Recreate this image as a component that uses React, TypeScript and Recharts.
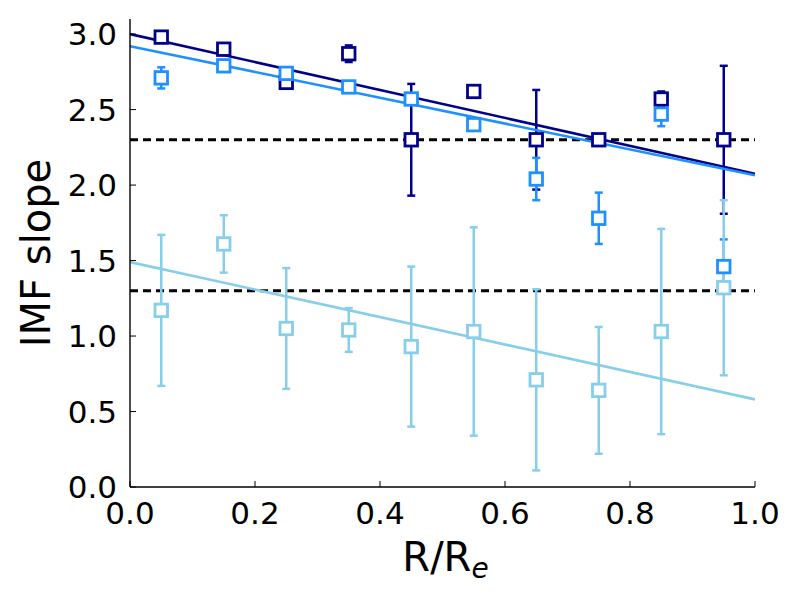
import React from 'react';
import {
  ComposedChart,
  Scatter,
  Line,
  ErrorBar,
  XAxis,
  YAxis,
  ReferenceLine,
} from 'recharts';

// radial bins (R/Re)
const radius = [0.05, 0.15, 0.25, 0.35, 0.45, 0.55, 0.65, 0.75, 0.85, 0.95];

// IMF slope per bin and its error
const darkSlope = [2.98, 2.9, 2.68, 2.87, 2.3, 2.62, 2.3, 2.3, 2.57, 2.3];
const darkErr = [0.02, 0.02, 0.02, 0.055, 0.37, 0.02, 0.33, 0.02, 0.05, 0.49];

const midSlope = [2.71, 2.79, 2.74, 2.65, 2.57, 2.4, 2.04, 1.78, 2.47, 1.46];
const midErr = [0.07, 0.02, 0.02, 0.02, 0.02, 0.02, 0.14, 0.17, 0.08, 0.18];

const lightSlope = [1.17, 1.61, 1.05, 1.04, 0.93, 1.03, 0.71, 0.64, 1.03, 1.32];
const lightErr = [0.5, 0.19, 0.4, 0.145, 0.53, 0.69, 0.6, 0.42, 0.68, 0.58];

// linear fits: value at R=0 and R=1
const darkFit = [3.0, 2.075];
const midFit = [2.92, 2.065];
const lightFit = [1.49, 0.58];

// reference IMF slopes
const refSlopes = [2.3, 1.3];

const xTicks = [0, 0.2, 0.4, 0.6, 0.8, 1.0];
const yTicks = [0, 0.5, 1.0, 1.5, 2.0, 2.5, 3.0];

const DARK = '#00008B';
const MID = '#1E90FF';
const LIGHT = '#87CEEB';
const FONT = 'DejaVu Sans';

const points = (vals: number[], errs: number[]) =>
  radius.map((r, i) => ({ x: r, y: vals[i], err: errs[i] }));

const fitLine = (ends: number[]) => [
  { x: 0, y: ends[0] },
  { x: 1, y: ends[1] },
];

const square = (color: string) => (props: any) => (
  <rect
    x={props.cx - 6.25}
    y={props.cy - 6.25}
    width={12.5}
    height={12.5}
    fill="#ffffff"
    stroke={color}
    strokeWidth={2.8}
  />
);

const series = [
  { name: 'dark', color: DARK, data: points(darkSlope, darkErr), fit: fitLine(darkFit) },
  { name: 'mid', color: MID, data: points(midSlope, midErr), fit: fitLine(midFit) },
  { name: 'light', color: LIGHT, data: points(lightSlope, lightErr), fit: fitLine(lightFit) },
];

const tickStyle = { fontSize: 31, fill: '#000', fontFamily: FONT };
const axisLine = { stroke: '#000', strokeWidth: 1.4 };

const App = () => {
  return (
    <div style={{ width: 792, height: 592 }}>
      <ComposedChart
        width={792}
        height={592}
        margin={{ top: 11, right: 45, left: 0, bottom: 0 }}
        style={{ fontFamily: FONT }}
      >
        <XAxis
          dataKey="x"
          type="number"
          domain={[0, 1]}
          ticks={xTicks}
          tickFormatter={(v) => v.toFixed(1)}
          tick={tickStyle}
          tickSize={-6}
          tickMargin={21}
          tickLine={{ stroke: '#000' }}
          axisLine={axisLine}
          height={113}
          allowDataOverflow
          label={{
            content: (p: any) => {
              const vb = p.viewBox;
              return (
                <text
                  x={vb.x + vb.width / 2 + 3}
                  y={563}
                  textAnchor="middle"
                  fontFamily={FONT}
                  fontSize={40}
                  fill="#000"
                >
                  R/R
                  <tspan fontSize={28} fontStyle="italic" dy={7}>
                    e
                  </tspan>
                </text>
              );
            },
          }}
        />
        <XAxis
          xAxisId="top"
          orientation="top"
          type="number"
          domain={[0, 1]}
          ticks={xTicks}
          tickFormatter={() => ''}
          tickSize={-6}
          tickLine={{ stroke: '#000' }}
          axisLine={axisLine}
          height={0}
          allowDataOverflow
        />
        <YAxis
          type="number"
          domain={[0, 3.1]}
          ticks={yTicks}
          tickFormatter={(v) => v.toFixed(1)}
          tick={tickStyle}
          tickSize={-6}
          tickMargin={19}
          tickLine={{ stroke: '#000' }}
          axisLine={axisLine}
          width={122}
          allowDataOverflow
          label={{
            content: (p: any) => {
              const vb = p.viewBox;
              const cy = vb.y + vb.height / 2;
              return (
                <text
                  x={42}
                  y={cy}
                  transform={`rotate(-90, 42, ${cy})`}
                  textAnchor="middle"
                  fontFamily={FONT}
                  fontSize={40}
                  fill="#000"
                >
                  IMF slope
                </text>
              );
            },
          }}
        />
        <YAxis
          yAxisId="right"
          orientation="right"
          type="number"
          domain={[0, 3.1]}
          ticks={yTicks}
          tickFormatter={() => ''}
          tickSize={-6}
          tickLine={{ stroke: '#000' }}
          axisLine={axisLine}
          width={0}
          allowDataOverflow
        />

        {refSlopes.map((v) => (
          <ReferenceLine
            key={v}
            y={v}
            stroke="#000"
            strokeWidth={2.8}
            strokeDasharray="8 5"
          />
        ))}

        {series.map((s) => (
          <Scatter
            key={s.name}
            data={s.data}
            dataKey="y"
            shape={square(s.color)}
            isAnimationActive={false}
          >
            <ErrorBar
              dataKey="err"
              direction="y"
              width={4}
              stroke={s.color}
              strokeWidth={2.5}
              isAnimationActive={false}
            />
          </Scatter>
        ))}

        {series.map((s) => (
          <Line
            key={s.name + '-fit'}
            data={s.fit}
            dataKey="y"
            stroke={s.color}
            strokeWidth={2.6}
            dot={false}
            activeDot={false}
            isAnimationActive={false}
          />
        ))}
      </ComposedChart>
    </div>
  );
};

export default App;
